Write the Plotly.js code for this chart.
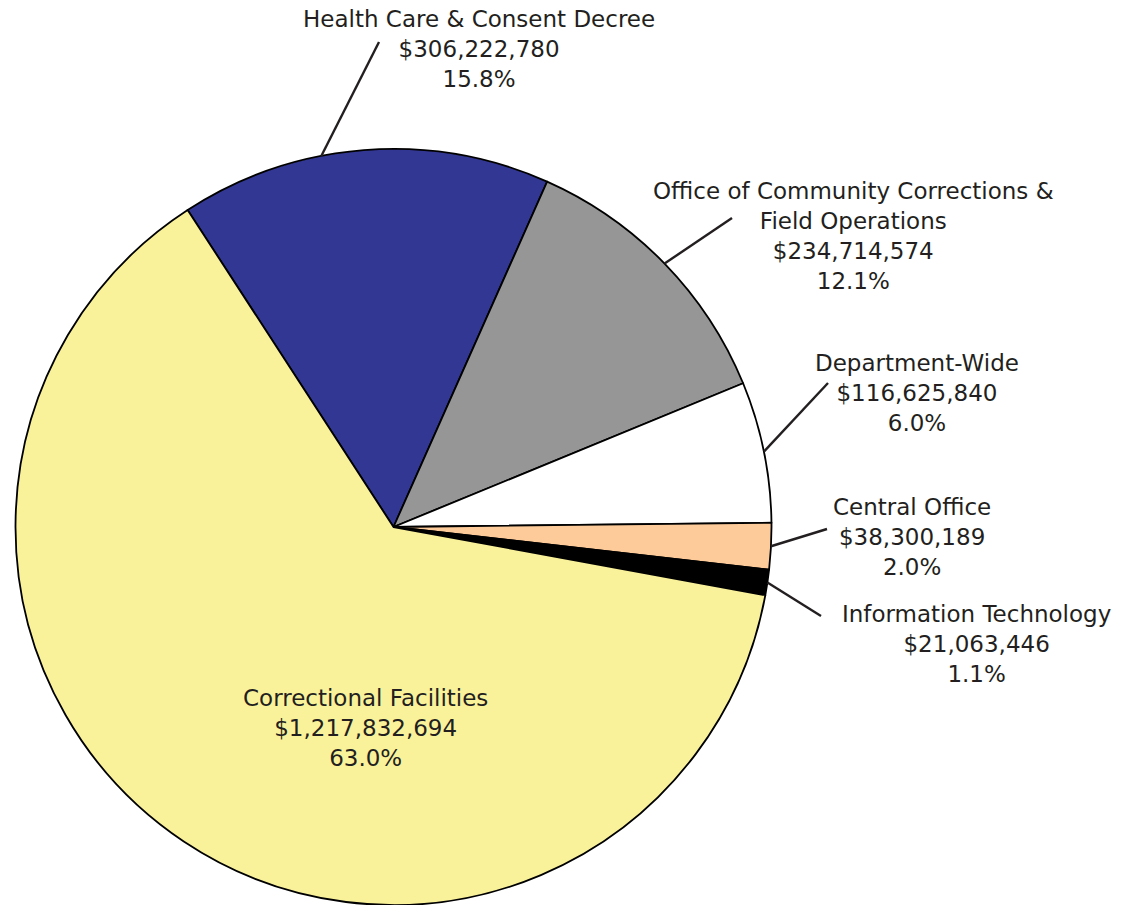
<!DOCTYPE html>
<html>
<head>
<meta charset="utf-8">
<script src="https://cdn.plot.ly/plotly-3.0.1.min.js"></script>
<style>html,body{margin:0;padding:0;background:#fff;}#chart{width:1127px;height:905px;}</style>
</head>
<body>
<div id="chart"></div>
<script>
// ---- data ----
const categories = [
  'Health Care & Consent Decree',
  'Office of Community Corrections &<br>Field Operations',
  'Department-Wide',
  'Central Office',
  'Information Technology',
  'Correctional Facilities'
];
const values = [306222780, 234714574, 116625840, 38300189, 21063446, 1217832694];
const pctLabels = ['15.8%', '12.1%', '6.0%', '2.0%', '1.1%', '63.0%'];
const colors = ['#333794', '#969696', '#ffffff', '#fdcb9a', '#000000', '#faf29a'];

// ---- layout helpers (label placement in pixels, not data) ----
const W = 1127, H = 905;
const labelPos = [
  {tx: 479, ty: 49,  lx: 379, ly: 42,  shift: -6.5, line: true},
  {tx: 853, ty: 236, lx: 732, ly: 218, shift: 0,    line: true},
  {tx: 917, ty: 393, lx: 828, ly: 383, shift: 0,    line: true},
  {tx: 912, ty: 537, lx: 827, ly: 529, shift: 0,    line: true},
  {tx: 976, ty: 644, lx: 821, ly: 616, shift: 0,    line: true},
  {tx: 365, ty: 728, line: false}
];
const rotation = -33;
const domX = [15.5 / W, 771.5 / W];
const domY = [0, 756 / H];

const total = values.reduce((a, b) => a + b, 0);
const cx = W * (domX[0] + domX[1]) / 2;
const cy = H * (1 - (domY[0] + domY[1]) / 2);
const R = Math.min(W * (domX[1] - domX[0]), H * (domY[1] - domY[0])) / 2;

const annotations = [];
const shapes = [];
let cum = 0;
values.forEach((v, i) => {
  const mid = rotation + (cum + v / 2) / total * 360;
  cum += v;
  const p = labelPos[i];
  const txt = categories[i] + '<br>$' + v.toLocaleString('en-US') + '<br>' + pctLabels[i];
  annotations.push({
    x: p.tx / W, y: 1 - p.ty / H, xref: 'paper', yref: 'paper',
    xanchor: 'center', yanchor: 'middle', showarrow: false,
    text: txt, align: 'center',
    font: {family: 'DejaVu Sans, Verdana, sans-serif', size: 23, color: '#231f20'}
  });
  if (p.line) {
    const a = (mid + p.shift) * Math.PI / 180;
    const ex = cx + R * Math.sin(a), ey = cy - R * Math.cos(a);
    shapes.push({
      type: 'line', xref: 'paper', yref: 'paper',
      x0: ex / W, y0: 1 - ey / H, x1: p.lx / W, y1: 1 - p.ly / H,
      line: {color: '#231f20', width: 2.4}
    });
  }
});

const trace = {
  type: 'pie',
  labels: categories,
  values: values,
  sort: false,
  direction: 'clockwise',
  rotation: rotation,
  textinfo: 'none',
  hoverinfo: 'label+value+percent',
  marker: {colors: colors, line: {color: '#000000', width: 1.8}},
  domain: {x: domX, y: domY},
  showlegend: false
};

const layout = {
  width: W, height: H,
  margin: {l: 0, r: 0, t: 0, b: 0},
  paper_bgcolor: '#ffffff',
  showlegend: false,
  annotations: annotations,
  shapes: shapes
};

Plotly.newPlot('chart', [trace], layout, {displayModeBar: false, staticPlot: true});
</script>
</body>
</html>
